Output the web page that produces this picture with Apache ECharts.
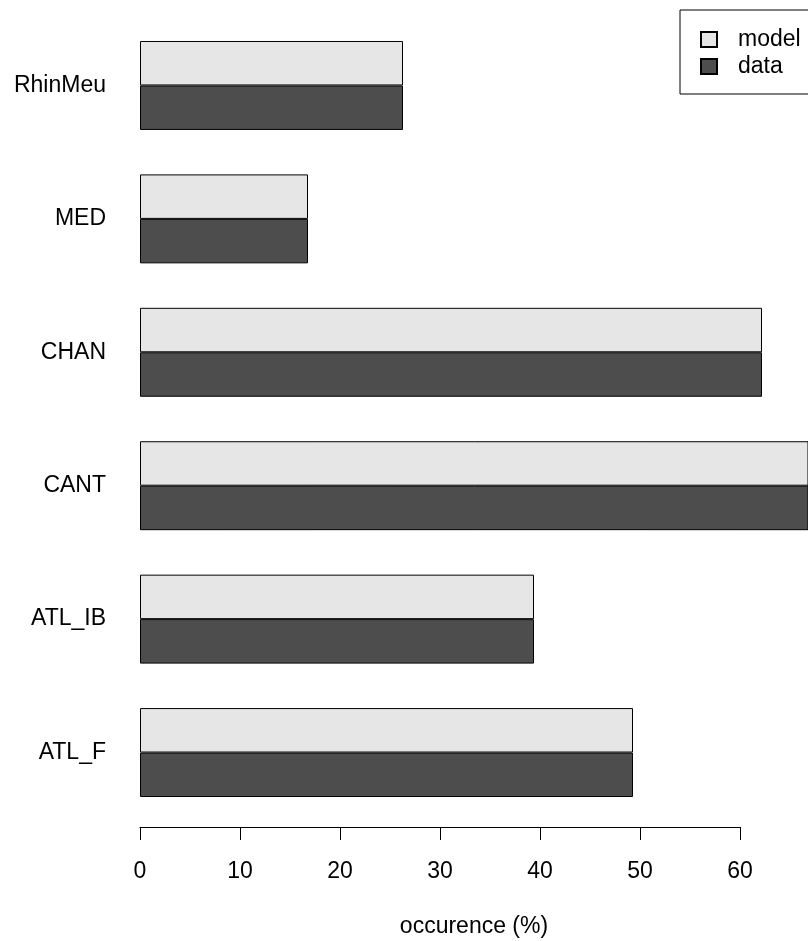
<!DOCTYPE html>
<html>
<head>
<meta charset="utf-8">
<script src="https://cdn.jsdelivr.net/npm/echarts@6/dist/echarts.min.js"></script>
<style>html,body{margin:0;padding:0;background:#fff}#c{width:808px;height:941px}</style>
</head>
<body>
<div id="c"></div>
<script>
const categories = ['ATL_F', 'ATL_IB', 'CANT', 'CHAN', 'MED', 'RhinMeu'];
const modelValues = [49.3, 39.4, 70, 62.2, 16.8, 26.3];
const dataValues = [49.3, 39.4, 70, 62.2, 16.8, 26.3];
const seriesNames = ['model', 'data'];
const xTicks = { min: 0, max: 60, interval: 10 };
const xTitle = 'occurence (%)';

const FONT = "'Liberation Sans', Arial, sans-serif";
const FS = 23;
const chart = echarts.init(document.getElementById('c'), null, { renderer: 'canvas' });
chart.setOption({
  animation: false,
  backgroundColor: '#ffffff',
  textStyle: { fontFamily: FONT, color: '#000' },
  grid: [
    { left: 140, right: 0, top: 18.75, bottom: 121.75, outerBoundsMode: 'none', containLabel: false },
    { left: 140, width: 600, top: 827, height: 0, outerBoundsMode: 'none', containLabel: false }
  ],
  legend: {
    orient: 'vertical',
    left: 680, top: 10,
    data: seriesNames,
    icon: 'rect',
    itemWidth: 16, itemHeight: 15,
    itemGap: 4,
    padding: [18, 30, 16, 20],
    borderColor: '#000', borderWidth: 1,
    textStyle: { fontFamily: FONT, fontSize: FS, color: '#000', lineHeight: 23, padding: [0, 0, 0, 16] }
  },
  xAxis: [
    {
      gridIndex: 0, type: 'value', min: 0, max: 66.8,
      axisLine: { show: false }, axisTick: { show: false }, axisLabel: { show: false },
      splitLine: { show: false },
      name: xTitle, nameLocation: 'middle', nameGap: 96,
      nameTextStyle: { fontFamily: FONT, fontSize: FS, color: '#000' }
    },
    {
      gridIndex: 1, type: 'value', position: 'bottom',
      min: xTicks.min, max: xTicks.max, interval: xTicks.interval,
      axisLine: { show: true, lineStyle: { color: '#000', width: 1 } },
      axisTick: { show: true, inside: false, length: 13, lineStyle: { color: '#000', width: 1 } },
      axisLabel: { show: true, margin: 33, fontFamily: FONT, fontSize: FS, color: '#000' },
      splitLine: { show: false }
    }
  ],
  yAxis: [
    {
      gridIndex: 0, type: 'category', data: categories,
      axisLine: { show: false }, axisTick: { show: false },
      axisLabel: { margin: 34, fontFamily: FONT, fontSize: FS, color: '#000' },
      splitLine: { show: false }
    },
    { gridIndex: 1, type: 'value', show: false }
  ],
  series: [
    {
      name: 'model', type: 'bar', xAxisIndex: 0, yAxisIndex: 0, data: modelValues,
      barGap: '0%', barCategoryGap: '33.333%', clip: true,
      itemStyle: { color: '#e6e6e6', borderColor: '#000', borderWidth: 1 }
    },
    {
      name: 'data', type: 'bar', xAxisIndex: 0, yAxisIndex: 0, data: dataValues,
      barGap: '0%', barCategoryGap: '33.333%', clip: true,
      itemStyle: { color: '#4d4d4d', borderColor: '#000', borderWidth: 1 }
    }
  ]
});
</script>
</body>
</html>
